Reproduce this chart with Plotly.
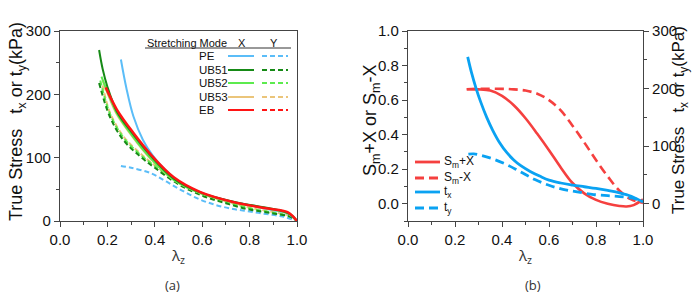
import plotly.graph_objects as go

W, H = 692, 303

# ---------------- Panel (a) data ----------------
lam_PE_X = [0.257, 0.28, 0.31, 0.35, 0.39, 0.43, 0.50, 0.60, 0.70, 0.80, 0.90, 0.96, 1.0]
PE_X = [255, 210, 165, 128, 104, 86, 63, 44, 33, 25, 17, 12, 0]
lam_PE_Y = [0.257, 0.30, 0.38, 0.45, 0.52, 0.59, 0.66, 0.73, 0.80, 0.87, 0.94, 1.0]
PE_Y = [87, 84, 76, 62, 47, 34, 25, 19, 15, 11, 7, 0]

lam_UB51_X = [0.165, 0.18, 0.20, 0.24, 0.30, 0.38, 0.48, 0.60, 0.75, 0.90, 0.97, 1.0]
UB51_X = [270, 240, 212, 173, 141, 104, 67, 44, 29, 19, 11, 0]
lam_UB51_Y = [0.165, 0.21, 0.267, 0.338, 0.40, 0.50, 0.60, 0.70, 0.80, 0.90, 0.97, 1.0]
UB51_Y = [218, 165, 128, 102, 84, 58, 40, 28, 18, 12, 7, 0]

lam_UB52_X = [0.175, 0.20, 0.24, 0.30, 0.38, 0.48, 0.60, 0.75, 0.90, 0.97, 1.0]
UB52_X = [228, 204, 170, 137, 100, 65, 43, 28, 18, 11, 0]
lam_UB52_Y = [0.17, 0.21, 0.267, 0.338, 0.40, 0.50, 0.60, 0.70, 0.80, 0.90, 0.97, 1.0]
UB52_Y = [222, 170, 132, 105, 87, 61, 42, 30, 20, 13, 7, 0]

lam_UB53_X = [0.18, 0.20, 0.24, 0.30, 0.38, 0.48, 0.60, 0.75, 0.90, 0.97, 1.0]
UB53_X = [222, 202, 168, 136, 99, 65, 43, 28, 18, 11, 0]
lam_UB53_Y = [0.18, 0.21, 0.267, 0.338, 0.40, 0.50, 0.60, 0.70, 0.80, 0.90, 0.97, 1.0]
UB53_Y = [214, 172, 134, 107, 88, 62, 43, 31, 21, 14, 8, 0]

lam_EB_X = [0.193, 0.24, 0.31, 0.39, 0.48, 0.59, 0.73, 0.87, 0.96, 1.0]
EB_X = [211, 176, 139, 102, 69, 46, 30, 20, 14, 0]

# ---------------- Panel (b) data ----------------
lam_SmpX = [0.25, 0.30, 0.35, 0.40, 0.45, 0.50, 0.55, 0.60, 0.65, 0.70, 0.75, 0.80,
            0.85, 0.90, 0.93, 0.96, 1.0]
SmpX = [0.663, 0.662, 0.655, 0.625, 0.570, 0.495, 0.405, 0.31, 0.21, 0.12, 0.06, 0.022,
        0.0, -0.013, -0.016, -0.008, 0.025]
lam_SmmX = [0.25, 0.30, 0.40, 0.45, 0.50, 0.55, 0.60, 0.65, 0.70, 0.75, 0.80, 0.85,
            0.90, 0.95, 1.0]
SmmX = [0.663, 0.665, 0.665, 0.662, 0.655, 0.637, 0.60, 0.54, 0.452, 0.355, 0.253, 0.158,
        0.075, 0.025, 0.005]
lam_tx = [0.254, 0.27, 0.29, 0.31, 0.335, 0.36, 0.39, 0.42, 0.45, 0.48, 0.52, 0.56,
          0.60, 0.65, 0.70, 0.75, 0.80, 0.85, 0.90, 0.95, 1.0]
tx = [255, 228, 200, 176, 150, 128, 106, 89, 76, 66, 56, 48,
      41, 36, 32.5, 29.5, 26.5, 23, 19, 13, 3]
lam_ty = [0.257, 0.28, 0.31, 0.36, 0.42, 0.48, 0.54, 0.60, 0.66, 0.72, 0.79, 0.85,
          0.90, 0.95, 1.0]
ty = [86, 86.5, 84, 78, 68, 55, 42, 32, 25, 20.5, 16, 14, 12.5, 10, 5]

modes = ["PE", "UB51", "UB52", "UB53", "EB"]
mode_colors = ["#5BBDF8", "#168A16", "#5CEB4E", "#EBC57A", "#FF1414"]

series_a = [
    ("PE", lam_PE_X, PE_X, lam_PE_Y, PE_Y),
    ("UB53", lam_UB53_X, UB53_X, lam_UB53_Y, UB53_Y),
    ("UB52", lam_UB52_X, UB52_X, lam_UB52_Y, UB52_Y),
    ("UB51", lam_UB51_X, UB51_X, lam_UB51_Y, UB51_Y),
]

fig = go.Figure()
cmap = dict(zip(modes, mode_colors))
DASH_A = "5px,3px"
for name, lx, sx, ly, sy in series_a:
    fig.add_trace(go.Scatter(x=ly, y=sy, mode="lines", line=dict(color=cmap[name], width=2, dash=DASH_A, shape="spline"),
                             xaxis="x", yaxis="y", showlegend=False))
for name, lx, sx, ly, sy in series_a:
    fig.add_trace(go.Scatter(x=lx, y=sx, mode="lines", line=dict(color=cmap[name], width=2, shape="spline"),
                             xaxis="x", yaxis="y", showlegend=False))
fig.add_trace(go.Scatter(x=lam_EB_X, y=EB_X, mode="lines", line=dict(color=cmap["EB"], width=2.5, shape="spline"),
                         xaxis="x", yaxis="y", showlegend=False))

RED_B = "#F5403F"
BLUE_B = "#0AA2F2"
DASH_B = "9px,5px"
fig.add_trace(go.Scatter(x=lam_SmmX, y=SmmX, mode="lines", line=dict(color=RED_B, width=2.6, dash=DASH_B, shape="spline"),
                         xaxis="x2", yaxis="y2", showlegend=False))
fig.add_trace(go.Scatter(x=lam_SmpX, y=SmpX, mode="lines", line=dict(color=RED_B, width=2.6, shape="spline"),
                         xaxis="x2", yaxis="y2", showlegend=False))
fig.add_trace(go.Scatter(x=lam_ty, y=ty, mode="lines", line=dict(color=BLUE_B, width=2.8, dash=DASH_B, shape="spline"),
                         xaxis="x2", yaxis="y3", showlegend=False))
fig.add_trace(go.Scatter(x=lam_tx, y=tx, mode="lines", line=dict(color=BLUE_B, width=2.8, shape="spline"),
                         xaxis="x2", yaxis="y3", showlegend=False))

def px_x(p):
    return p / W

def px_y(p):
    return 1 - p / H

TICKFONT = dict(family="Arial, Liberation Sans", size=15, color="#111")
LINEC = "#444"

def axis_common(**kw):
    d = dict(showgrid=False, zeroline=False, showline=True, linecolor=LINEC, linewidth=1.2,
             ticks="outside", ticklen=5, tickwidth=1, tickcolor=LINEC, tickfont=TICKFONT, automargin=False)
    d.update(kw)
    return d

ydom = [px_y(221), px_y(31)]
fig.update_layout(
    width=W, height=H, margin=dict(l=0, r=0, t=0, b=0, autoexpand=False),
    plot_bgcolor="white", paper_bgcolor="white",
    xaxis=axis_common(domain=[px_x(60), px_x(297)], range=[0, 1.0], dtick=0.2, tickformat=".1f",
                      mirror=True, anchor="y",
                      minor=dict(dtick=0.1, ticklen=3, tickcolor=LINEC, ticks="outside")),
    yaxis=axis_common(domain=ydom, range=[0, 300], dtick=100, mirror=True, anchor="x",
                      minor=dict(dtick=50, ticklen=3, tickcolor=LINEC, ticks="outside")),
    xaxis2=axis_common(domain=[px_x(408), px_x(643)], range=[0, 1.0], dtick=0.2, tickformat=".1f",
                       mirror=True, anchor="y2",
                       minor=dict(dtick=0.1, ticklen=3, tickcolor=LINEC, ticks="outside")),
    yaxis2=axis_common(domain=ydom, range=[-0.1, 1.0], tick0=0, dtick=0.2, tickformat=".1f", anchor="x2",
                       minor=dict(tick0=0, dtick=0.1, ticklen=3, tickcolor=LINEC, ticks="outside")),
    yaxis3=axis_common(domain=ydom, range=[-30, 300], tick0=0, dtick=100, overlaying="y2", side="right",
                       anchor="x2",
                       minor=dict(tick0=0, dtick=50, ticklen=3, tickcolor=LINEC, ticks="outside")),
)

ann = []
shapes = []

def note(x, y, text, font, xanchor="center", angle=0):
    ann.append(dict(x=px_x(x), y=px_y(y), xref="paper", yref="paper", showarrow=False,
                    xanchor=xanchor, yanchor="middle", textangle=angle, text=text, font=font))

TITLE_FONT = dict(family="Arial, Liberation Sans", size=18, color="#111")
NB = "\u00a0\u00a0\u00a0"
note(17, 122, "True Stress" + NB + "t<sub>x</sub> or t<sub>y</sub>(kPa)", TITLE_FONT, angle=-90)
note(680, 120, "True Stress" + NB + "t<sub>x</sub> or t<sub>y</sub>(kPa)",
     dict(family="Arial, Liberation Sans", size=17, color="#111"), angle=-90)
note(371, 120, "S<sub>m</sub>+X or S<sub>m</sub>-X", TITLE_FONT, angle=-90)
LAM_FONT = dict(family="Open Sans", size=15, color="#333")
note(178, 256, "λ<sub>z</sub>", LAM_FONT)
note(525, 256, "λ<sub>z</sub>", LAM_FONT)
LBL_FONT = dict(family="Open Sans", size=13, color="#333")
note(172, 285, "(a)", LBL_FONT)
note(533, 285, "(b)", LBL_FONT)

# Panel (a) legend table
HDR_FONT = dict(family="Arial, Liberation Sans", size=11, color="#111")
LEG_FONT = dict(family="Arial, Liberation Sans", size=11.5, color="#111")
note(145, 43, "Stretching Mode", HDR_FONT, xanchor="left")
note(242, 43, "X", HDR_FONT)
note(274, 43, "Y", HDR_FONT)
shapes.append(dict(type="line", xref="paper", yref="paper", x0=px_x(145), x1=px_x(291),
                   y0=px_y(48), y1=px_y(48), line=dict(color="#333", width=1)))
row_y = [56, 70, 83, 97, 110]
for name, ry in zip(modes, row_y):
    c = cmap[name]
    note(197, ry, name, LEG_FONT, xanchor="left")
    shapes.append(dict(type="line", xref="paper", yref="paper", x0=px_x(228), x1=px_x(254),
                       y0=px_y(ry), y1=px_y(ry), line=dict(color=c, width=2)))
    shapes.append(dict(type="line", xref="paper", yref="paper", x0=px_x(262), x1=px_x(288),
                       y0=px_y(ry), y1=px_y(ry), line=dict(color=c, width=2, dash=DASH_A)))

# Panel (b) legend
leg_b = [("S<sub>m</sub>+X", RED_B, "solid", 162), ("S<sub>m</sub>-X", RED_B, DASH_B, 178),
         ("t<sub>x</sub>", BLUE_B, "solid", 192), ("t<sub>y</sub>", BLUE_B, DASH_B, 208)]
for txt, c, dsh, ry in leg_b:
    shapes.append(dict(type="line", xref="paper", yref="paper", x0=px_x(415), x1=px_x(440),
                       y0=px_y(ry), y1=px_y(ry), line=dict(color=c, width=2.8, dash=dsh)))
    note(442, ry, txt, dict(family="Arial, Liberation Sans", size=12, color="#111"), xanchor="left")

fig.update_layout(annotations=ann, shapes=shapes)
fig.write_html("out.html", config={"displayModeBar": False},
               post_script="document.body.style.margin='0';")
